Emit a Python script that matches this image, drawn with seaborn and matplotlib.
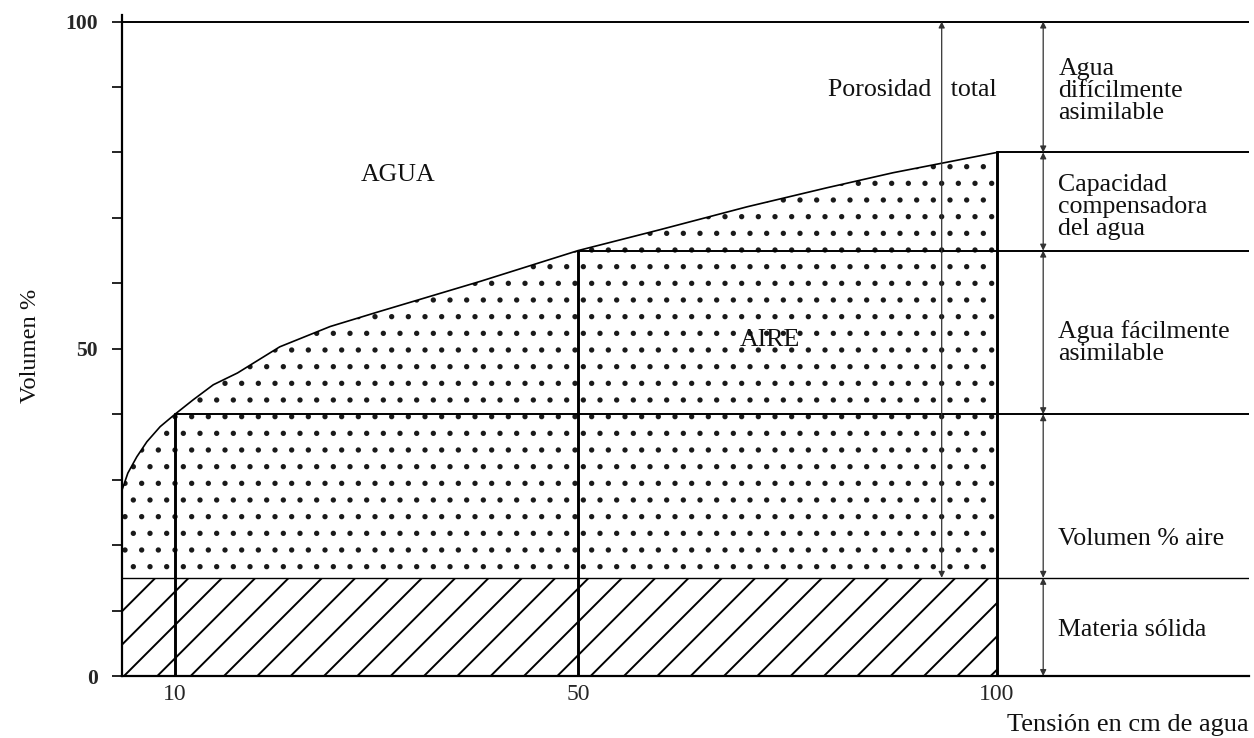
import numpy as np
import seaborn as sns
import matplotlib.pyplot as plt

# curva de retención: tensión (cm de agua) vs volumen %
tension = [0, 1.1, 2.8, 4.7, 7.2, 10, 11.8, 13.8, 16.2, 20.4, 25.4, 30.3, 40.3,
           50, 59.8, 70.2, 79.7, 87.6, 93.6, 100]
volumen = [28.4, 31.0, 33.5, 35.8, 38.1, 40, 42.2, 44.5, 46.3, 50.3, 53.4, 55.7, 60.3,
           65, 68.2, 71.7, 74.6, 76.9, 78.4, 80]

# cortes verticales (tensión, altura) y niveles horizontales (altura, tensión de inicio)
cortes = [10, 50, 100]
altura_corte = [40, 65, 80]
niveles = [100, 80, 65, 40]
inicio_nivel = [0, 100, 50, 10]
solido = 15

# zonas a la derecha
limites = [100, 80, 65, 40, 15, 0]
zonas = ['Agua\ndifícilmente\nasimilable', 'Capacidad\ncompensadora\ndel agua',
         'Agua fácilmente\nasimilable', 'Volumen % aire', 'Materia sólida']
zona_y = [89.4, 71.6, 51, 20.9, 7.0]

yticks = list(range(0, 101, 10))
ytick_labels = ['0', '', '', '', '', '50', '', '', '', '', '100']
xticks = [10, 50, 100]

# el eje x del dibujo original no es lineal
x_knots = [0, 10, 50, 100, 140]
px_knots = [0, 53, 456, 875, 1211]


def fwd(x):
    return np.interp(x, x_knots, px_knots)


def inv(p):
    return np.interp(p, px_knots, x_knots)


sns.set_theme(style='white')
plt.rcParams['font.family'] = ['Liberation Serif', 'DejaVu Serif']
plt.rcParams['hatch.linewidth'] = 0.7
plt.rcParams['hatch.color'] = '#1a1a1a'

fig = plt.figure(figsize=(6.27, 3.69), dpi=200)
ax = fig.add_axes([122 / 1254, 62 / 738, 1127 / 1254, 661 / 738])
ax.set_xscale('function', functions=(fwd, inv))
ax.set_xlim(0, 130)
ax.set_ylim(0, 101)

# relleno: materia sólida y aire
ax.fill_between([0, 100], 0, solido, facecolor='white', hatch='//', edgecolor='black', linewidth=0)
ax.fill_between(tension, solido, volumen, facecolor='white', hatch='..', edgecolor='#1a1a1a', linewidth=0)

sns.lineplot(x=tension, y=volumen, ax=ax, color='black', lw=0.6, sort=False, estimator=None)

# líneas
for xc, hc in zip(cortes, altura_corte):
    ax.plot([xc, xc], [0, hc], color='black', lw=1.05, zorder=4)
for yn, xn in zip(niveles, inicio_nivel):
    ax.plot([xn, 130], [yn, yn], color='black', lw=0.7, zorder=4)
ax.plot([0, 130], [solido, solido], color='black', lw=0.5, zorder=4)

# flechas
flecha = dict(arrowstyle='<|-|>', color='#333333', lw=0.45, mutation_scale=4.5, shrinkA=0, shrinkB=0)
for hi, lo in zip(limites[:-1], limites[1:]):
    ax.annotate('', xy=(105.5, lo), xytext=(105.5, hi), arrowprops=flecha, zorder=5)
ax.annotate('', xy=(93.4, solido), xytext=(93.4, 100), arrowprops=flecha, zorder=5)

txt = dict(fontsize=9.3, color='#111111')
for z, zy in zip(zonas, zona_y):
    ax.text(107.3, zy, z, ha='left', va='center', linespacing=1.0, **txt)
ax.text(89.9, 89.5, 'Porosidad   total', ha='center', va='center', **txt)
ax.text(32.1, 76.6, 'AGUA', ha='center', va='center', **txt)
ax.text(72.9, 51.4, 'AIRE', ha='center', va='center', **txt)

# ejes
for s in ['top', 'right']:
    ax.spines[s].set_visible(False)
for s in ['left', 'bottom']:
    ax.spines[s].set_color('black')
    ax.spines[s].set_linewidth(0.8)
ax.set_yticks(yticks)
ax.set_yticklabels(ytick_labels, fontsize=7.8, fontweight='bold')
ax.set_xticks(xticks)
ax.set_xticklabels([str(v) for v in xticks], fontsize=8.5)
ax.xaxis.set_minor_locator(plt.NullLocator())
ax.tick_params(axis='y', left=True, length=3.6, width=0.6, pad=5, color='black')
ax.tick_params(axis='x', bottom=False, length=0, pad=3)

ax.set_ylabel('Volumen %', fontsize=8.8, color='#111111')
ax.yaxis.set_label_coords(-0.072, 0.5)
ax.set_xlabel('Tensión en cm de agua', fontsize=9.5, color='#111111', ha='right')
ax.xaxis.set_label_coords(1.0, -0.058)

fig.savefig('out.png', dpi=200)
